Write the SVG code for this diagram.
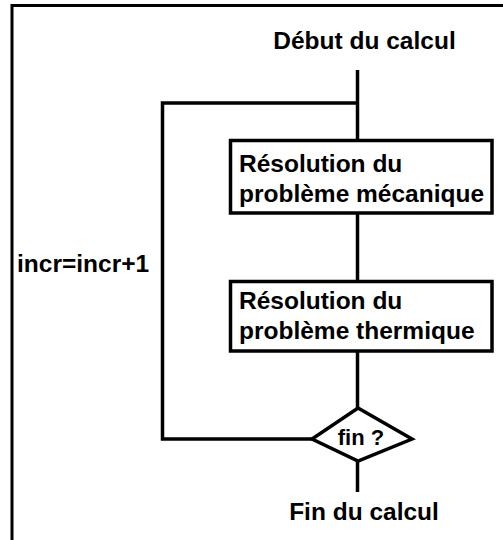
<svg xmlns="http://www.w3.org/2000/svg" width="503" height="540" viewBox="0 0 503 540">
<style>
.t{font-family:"Liberation Sans",Arial,sans-serif;font-weight:bold;font-size:24.5px;fill:#000}
.s{fill:none;stroke:#000;stroke-width:3.5}
.b{fill:#fff;stroke:#000;stroke-width:3.5}
</style>
<rect width="503" height="540" fill="#fff"/>
<path d="M12,540 V5.5 H503" fill="none" stroke="#000" stroke-width="3"/>
<g id="connectors">
<path class="s" d="M357.5,70 V140.5"/>
<path class="s" d="M357.5,103 H162.5 V439 H312"/>
<path class="s" d="M357.5,213 V281.5"/>
<path class="s" d="M357.5,351 V408"/>
<path class="s" d="M357.5,461 V492"/>
</g>
<g id="start"><text class="t" x="364.5" y="49" text-anchor="middle">Début du calcul</text></g>
<g id="meca">
<rect class="b" x="230.5" y="140.5" width="261.5" height="72.5"/>
<text class="t" x="239" y="172">Résolution du</text>
<text class="t" x="239" y="202">problème mécanique</text>
</g>
<g id="therm">
<rect class="b" x="230.5" y="281.5" width="261.5" height="69.5"/>
<text class="t" x="239" y="309">Résolution du</text>
<text class="t" x="239" y="339">problème thermique</text>
</g>
<g id="decision">
<polygon class="b" points="358,408 412,439 358,461 312,439"/>
<text class="t" x="361" y="445" text-anchor="middle" style="font-size:22px">fin ?</text>
</g>
<g id="incr"><text class="t" x="17" y="272">incr=incr+1</text></g>
<g id="end"><text class="t" x="364" y="520" text-anchor="middle">Fin du calcul</text></g>
</svg>
